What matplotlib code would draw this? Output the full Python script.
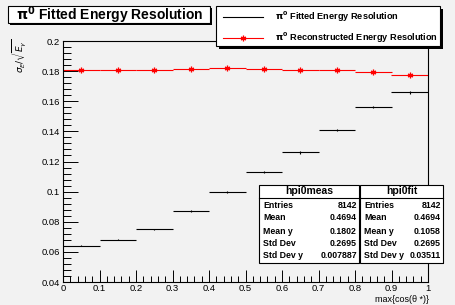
import numpy as np
import matplotlib
matplotlib.use('Agg')
import matplotlib.pyplot as plt
from matplotlib.patches import Rectangle
from matplotlib.ticker import MultipleLocator

plt.rcParams['font.family'] = ['Liberation Sans', 'DejaVu Sans']
plt.rcParams['mathtext.fontset'] = 'dejavusans'

# bin centres in max{cos(theta*)}
bin_centers = [0.05, 0.15, 0.25, 0.35, 0.45, 0.55, 0.65, 0.75, 0.85, 0.95]
fitted_res = [0.064, 0.068, 0.075, 0.087, 0.100, 0.113, 0.126, 0.141, 0.156, 0.166]
fitted_err = [0.0004, 0.0004, 0.0004, 0.0005, 0.0006, 0.0006, 0.0007, 0.0007, 0.0008, 0.0009]
reco_res = [0.1805, 0.1805, 0.1805, 0.1812, 0.1820, 0.1812, 0.1805, 0.1805, 0.1796, 0.1776]
reco_err = [0.0006, 0.0006, 0.0006, 0.0006, 0.0007, 0.0007, 0.0007, 0.0007, 0.0008, 0.0008]

stat_names = ['Entries', 'Mean', 'Mean y', 'Std Dev', 'Std Dev y']
meas_stats = ['8142', '0.4694', '0.1802', '0.2695', '0.007887']
fit_stats = ['8142', '0.4694', '0.1058', '0.2695', '0.03511']

W, H = 455, 305
BG = '#f2f2f2'
STAR = (6, 2, 0)

fig = plt.figure(figsize=(W / 100, H / 100), dpi=100, facecolor=BG)


def fx(px):
    return px / W


def fy(py):
    return 1 - py / H


ax = fig.add_axes([fx(63), fy(282), (428 - 63) / W, (282 - 41) / H])
ax.set_facecolor(BG)
ax.set_xlim(0, 1)
ax.set_ylim(0.04, 0.2)

ax.errorbar(bin_centers, fitted_res, xerr=0.05, yerr=fitted_err, fmt='none',
            ecolor='black', elinewidth=0.8, capsize=0)
ax.errorbar(bin_centers, reco_res, xerr=0.05, yerr=reco_err, fmt='none',
            ecolor='red', elinewidth=0.8, capsize=0)
ax.plot(bin_centers, reco_res, linestyle='none', marker=STAR, color='red',
        markersize=4, markeredgewidth=0.9)

ax.xaxis.set_major_locator(MultipleLocator(0.1))
ax.xaxis.set_minor_locator(MultipleLocator(0.02))
ax.yaxis.set_major_locator(MultipleLocator(0.02))
ax.yaxis.set_minor_locator(MultipleLocator(0.004))
ax.tick_params(which='both', direction='in', top=False, right=False,
               labelsize=6.8, width=0.7)
ax.tick_params(axis='x', which='major', length=9, pad=1.5)
ax.tick_params(axis='x', which='minor', length=4.5)
ax.tick_params(axis='y', which='major', length=11, pad=2)
ax.tick_params(axis='y', which='minor', length=5.5)
ax.xaxis.set_major_formatter(plt.FuncFormatter(lambda v, p: f'{v:g}'))
ax.yaxis.set_major_formatter(plt.FuncFormatter(lambda v, p: f'{v:g}'))
for s in ax.spines.values():
    s.set_linewidth(0.8)

fig.text(fx(429), fy(304), 'max{cos(θ *)}', ha='right', va='bottom',
         fontsize=6.5)
fig.text(fx(19), fy(39), r'$\sigma_E/\sqrt{E_\gamma}$', ha='center', va='top',
         rotation=90, fontsize=6.5)


def box(x0, y0, x1, y1, shadow=3):
    if shadow:
        fig.patches.append(Rectangle((fx(x0 + shadow), fy(y1 + shadow)),
                                     (x1 - x0) / W, (y1 - y0) / H,
                                     transform=fig.transFigure,
                                     facecolor='black', edgecolor='none'))
    fig.patches.append(Rectangle((fx(x0), fy(y1)), (x1 - x0) / W, (y1 - y0) / H,
                                 transform=fig.transFigure, facecolor='white',
                                 edgecolor='black', linewidth=0.8))


PI0 = r'$\mathbf{\pi^0}$'

# title
box(8, 6, 210, 23, shadow=2)
fig.text(fx(110), fy(15), PI0 + ' Fitted Energy Resolution', ha='center',
         va='center', fontsize=10, fontweight='bold')

# legend
box(216, 6, 440, 46, shadow=3)
fig.add_artist(plt.Line2D([fx(223), fx(263)], [fy(17), fy(17)], color='black',
                          linewidth=0.8))
fig.add_artist(plt.Line2D([fx(223), fx(263)], [fy(38), fy(38)], color='red',
                          linewidth=0.8))
fig.add_artist(plt.Line2D([fx(243)], [fy(38)], color='red', marker=STAR,
                          markersize=4, markeredgewidth=0.9, linestyle='none'))
fig.text(fx(275), fy(17), PI0 + ' Fitted Energy Resolution', va='center',
         fontsize=6.6, fontweight='bold')
fig.text(fx(275), fy(38), PI0 + ' Reconstructed Energy Resolution',
         va='center', fontsize=6.6, fontweight='bold')


def stats_box(x0, x1, name, values):
    box(x0, 185, x1, 263, shadow=1)
    fig.add_artist(plt.Line2D([fx(x0), fx(x1)], [fy(198), fy(198)],
                              color='black', linewidth=0.8))
    fig.text(fx((x0 + x1) / 2), fy(191.5), name, ha='center', va='center',
             fontsize=7.5, fontweight='bold')
    rows = [205, 218, 231, 244, 256]
    for yy, lab, val in zip(rows, stat_names, values):
        fig.text(fx(x0 + 4), fy(yy), lab, va='center', fontsize=6.3,
                 fontweight='bold')
        fig.text(fx(x1 - 2), fy(yy), val, ha='right', va='center',
                 fontsize=6.3, fontweight='bold')


stats_box(259, 359, 'hpi0meas', meas_stats)
stats_box(360, 443, 'hpi0fit', fit_stats)

fig.savefig('out.png', dpi=100, facecolor=BG)
